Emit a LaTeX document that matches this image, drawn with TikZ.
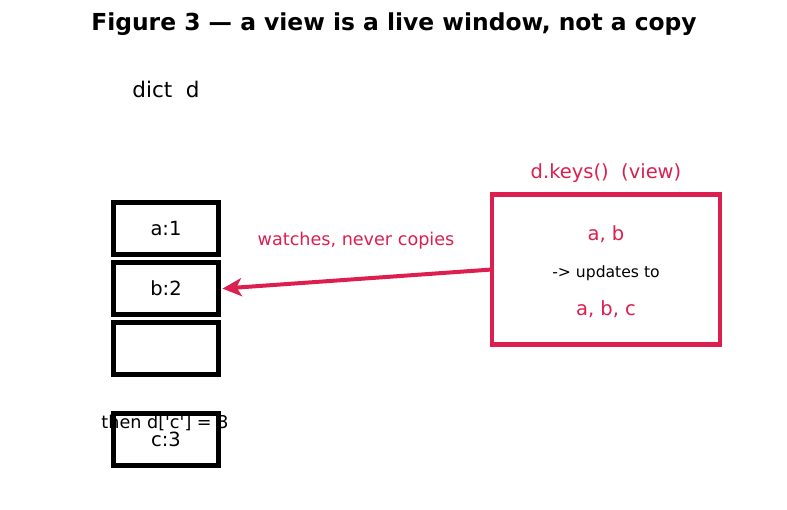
\documentclass[tikz,border=0pt]{standalone}
\usepackage{fontspec}
\setmainfont{DejaVu Sans}
\usetikzlibrary{arrows.meta}
\definecolor{viewred}{HTML}{DC1F4F}
\newcommand{\fsz}[1]{\fontsize{#1}{#1}\selectfont}
\newcommand{\sq}{\textquotesingle}
\begin{document}
\begin{tikzpicture}[x=1pt,y=-1pt,
  cell/.style={draw=black,line width=4.5pt,minimum width=105pt,minimum height=52pt,
    inner sep=0pt,outer sep=0pt,font=\fsz{19.5}},
  viewbox/.style={draw=viewred,line width=4.3pt,minimum width=228pt,minimum height=150pt,
    inner sep=0pt,outer sep=0pt},
  lbl/.style={inner sep=0pt,outer sep=0pt},
  link/.style={draw=viewred,line width=4pt,-{Stealth[length=19pt,width=18pt,inset=5pt]}}]
\useasboundingbox (0,0) rectangle (787,510);

% title and dictionary caption
\node[lbl,font=\bfseries\fsz{23.4}] (title) at (394,24) {Figure 3 — a view is a live window, not a copy};
\node[lbl,font=\fsz{21.5}] (dictlbl) at (166,89) {dict\ \ d};

% dictionary slots
\node[cell] (a) at (166,228.3) {a:1};
\node[cell] (b) at (166,288.6) {b:2};
\node[cell] (e) at (166,348.6) {};
\node[cell] (c) at (166,439.6) {c:3};
\node[lbl,font=\fsz{17.6}] (then) at (165,423) {then d[\sq c\sq] = 3};

% the view object
\node[lbl,font=\fsz{19.5},text=viewred] (viewlbl) at (606,173) {d.keys()\ \ (view)};
\node[viewbox] (view) at (606,269.5) {};
\node[lbl,font=\fsz{19.5},text=viewred] (ab) at (606,234) {a, b};
\node[lbl,font=\fsz{15.6}] (upd) at (606,273) {-> updates to};
\node[lbl,font=\fsz{19.5},text=viewred] (abc) at (606,309) {a, b, c};

% the view watches the dictionary
\coordinate (tip) at ([xshift=4pt]b.east);
\draw[link] (view.west) -- (tip);
\node[lbl,font=\fsz{17.6},text=viewred] (watch) at (356,241) {watches, never copies};
\end{tikzpicture}
\end{document}
